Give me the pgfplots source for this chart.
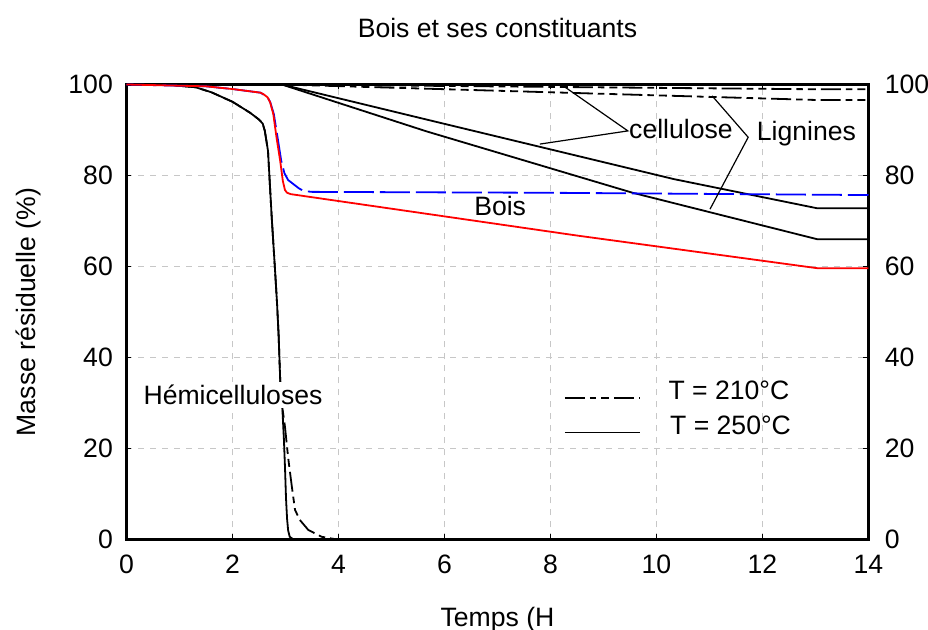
\documentclass[border=0pt]{standalone}
\usepackage{fontspec}
\setmainfont{Liberation Sans}
\usepackage{pgfplots}
\pgfplotsset{compat=1.18}
\tikzset{
  t210/.style={black, line width=0.9pt, dash pattern=on 10pt off 2.5pt on 3.3pt off 2.5pt on 4pt off 2.5pt},
  t250/.style={black, line width=0.9pt},
}
\pgfplotsset{
  base/.style={at={(0pt,0pt)}, anchor=south west, scale only axis,
    width=371pt, height=227.5pt, xmin=0, xmax=14, ymin=0, ymax=100,
    xtick={0,2,...,14}, ytick={0,20,...,100},
    tick align=inside, major tick length=2.5pt,
    tick style={black, line width=0.6pt},
    /pgf/number format/assume math mode=true,
    ticklabel style={font=\fontsize{13.3}{16}\selectfont}},
}
\begin{document}
\fontsize{13.3}{16}\selectfont
\begin{tikzpicture}
\path[use as bounding box] (-63.25pt,-45.25pt) rectangle (400.75pt,269.75pt);
\begin{axis}[base, clip=false,
  axis line style={line width=1.2pt},
  grid=major, grid style={dashed, black!22, line width=0.5pt},
  xticklabel shift=3.0pt, yticklabel shift=2.2pt]
% hemicelluloses 210
\addplot[t210] coordinates {(0,100) (0.8,99.9) (1.3,99.4) (1.6,98.3) (2.0,96.2) (2.33,93.8) (2.5,92.3) (2.57,91.4) (2.61,89.8) (2.67,85.4) (2.74,70.8) (2.80,59.7) (2.84,52) (2.87,45) (2.9,35.1) (2.94,29) (2.99,24.8) (3.05,18) (3.12,11.6) (3.18,6.5) (3.27,4.3) (3.43,2.1) (3.68,0.6) (3.95,0.05) (4.2,0) (14,0)};
% hemicelluloses 250
\addplot[t250] coordinates {(0,100) (0.8,99.9) (1.3,99.4) (1.6,98.3) (2.0,96.2) (2.33,93.8) (2.5,92.3) (2.57,91.4) (2.61,89.8) (2.67,85.4) (2.74,70.8) (2.80,59.7) (2.84,52) (2.87,45) (2.9,35.1) (2.94,29) (2.97,22) (2.99,16) (3.01,9) (3.03,4.5) (3.05,2) (3.08,0.6) (3.15,0) (14,0)};
% cellulose 210
\addplot[t210] coordinates {(0,100) (2.93,100) (13,98.95) (14,98.95)};
% lignines 210
\addplot[t210] coordinates {(0,100) (2.93,100) (13,96.6) (14,96.6)};
% cellulose 250
\addplot[t250] coordinates {(0,100) (2.93,100) (5.66,92.3) (10.33,79.2) (13.03,72.8) (14,72.8)};
% lignines 250
\addplot[t250] coordinates {(0,100) (2.93,100) (5.66,89.7) (9.55,76.2) (13.03,66.0) (14,66.0)};
% bois 210
\addplot[blue, line width=0.9pt, dash pattern=on 15pt off 3pt] coordinates {(0,100) (1.5,99.6) (2.0,99.0) (2.53,98.2) (2.66,97.2) (2.71,96.2) (2.78,93.5) (2.85,88.4) (2.92,83.2) (2.98,80.5) (3.05,79) (3.15,78.1) (3.25,77.2) (3.34,76.6) (3.5,76.4) (8,76.2) (14,75.7)};
% bois 250
\addplot[red, line width=0.9pt] coordinates {(0,100) (1.5,99.6) (2.0,99.0) (2.53,98.2) (2.58,97.9) (2.66,97.2) (2.71,96.1) (2.77,93.5) (2.83,88.4) (2.9,83.2) (2.95,78.8) (2.99,76.8) (3.03,76.2) (3.1,75.9) (8.5,66.8) (13.05,59.6) (14,59.6)};
% labels
\draw[black, line width=0.6pt] (axis cs:8.24,99.7) -- (axis cs:9.46,89.8) -- (axis cs:7.80,86.9);
\draw[black, line width=0.6pt] (axis cs:11.05,97.5) -- (axis cs:11.73,88.4) -- (axis cs:11.01,72.6);
\node[anchor=base west, inner sep=1pt] at (axis cs:9.44,88.2) {cellulose};
\node[anchor=base west, inner sep=1pt] at (axis cs:11.85,87.6) {Lignines};
\node[anchor=base, fill=white, inner sep=1.5pt] at (axis cs:7.05,71.1) {Bois};
\node[anchor=base, fill=white, inner sep=1.5pt] at (axis cs:2.01,29.6) {Hémicelluloses};
\draw[t210] (axis cs:8.27,31.1) -- (axis cs:9.69,31.1);
\draw[t250] (axis cs:8.27,23.5) -- (axis cs:9.69,23.5);
\node[anchor=base west, inner sep=0pt] at (axis cs:10.22,30.7) {T = 210°C};
\node[anchor=base west, inner sep=0pt] at (axis cs:10.25,23.0) {T = 250°C};
% title and axis labels
\node[anchor=base] at (rel axis cs:0.5,1.1022) {Bois et ses constituants};
\node[anchor=base] at (rel axis cs:0.5,-0.1923) {Temps (H};
\node[anchor=center, rotate=90] at (rel axis cs:-0.1328,0.5) {Masse résiduelle (\%)};
\end{axis}
\begin{axis}[base, hide x axis, axis y line*=right,
  y axis line style={draw=none}, yticklabel shift=3.5pt]
\addplot[draw=none] coordinates {(0,0)};
\end{axis}
\end{tikzpicture}
\end{document}
